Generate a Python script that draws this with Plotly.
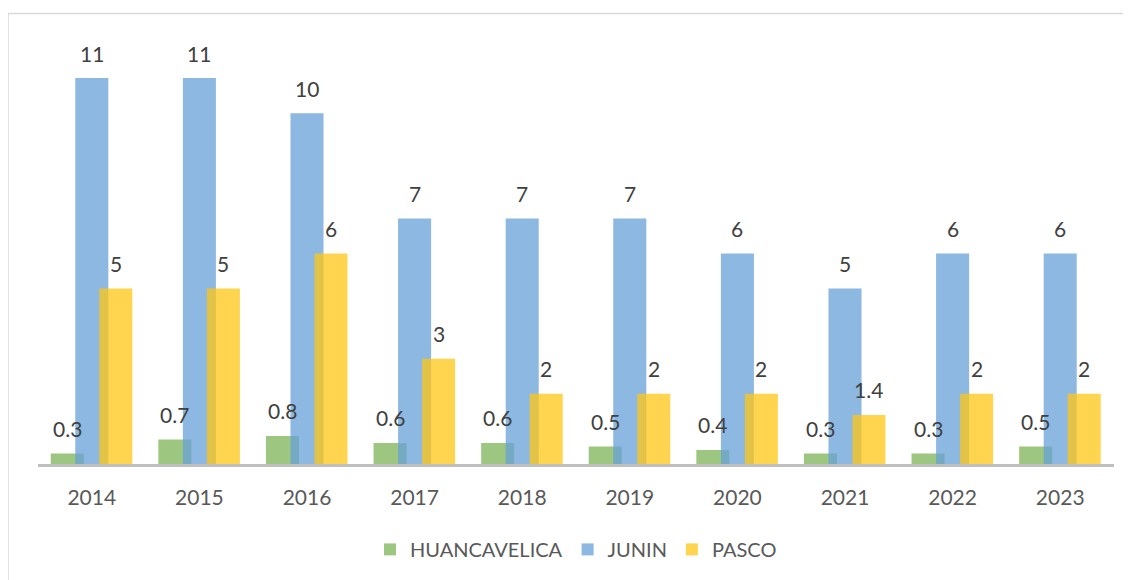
import plotly.graph_objects as go

years = ["2014", "2015", "2016", "2017", "2018", "2019", "2020", "2021", "2022", "2023"]
huancavelica = [0.3, 0.7, 0.8, 0.6, 0.6, 0.5, 0.4, 0.3, 0.3, 0.5]
junin = [11, 11, 10, 7, 7, 7, 6, 5, 6, 6]
pasco = [5, 5, 6, 3, 2, 2, 2, 1.4, 2, 2]

series = [
    ("HUANCAVELICA", huancavelica, "rgba(124,180,85,0.75)", -0.228),
    ("JUNIN", junin, "rgba(103,160,216,0.75)", 0.0),
    ("PASCO", pasco, "rgba(255,199,20,0.75)", 0.223),
]

# page body has an 8px margin; figure drawn offset by it
OFF = 8
W, H = 1131 - OFF, 580 - OFF
L, R, T, B = 38 - OFF, 17, 43 - OFF, 115
bw = 0.307
pw = W - L - R
ph = H - T - B
cat_px = pw / len(years)

fig = go.Figure()
annotations = []
for name, vals, col, off in series:
    fig.add_trace(go.Bar(
        x=years, y=vals, name=name,
        marker=dict(color=col, line=dict(width=0)),
        width=bw, offset=off - bw / 2,
    ))
    for i, yv in enumerate(vals):
        annotations.append(dict(
            x=i, y=yv, xref="x", yref="y", text=f"{yv:g}",
            showarrow=False, xshift=off * cat_px, yshift=25,
            font=dict(family="Lato, sans-serif", size=21, color="#404040"),
        ))

fig.update_layout(
    width=W, height=H,
    margin=dict(l=L, r=R, t=T, b=B, pad=0),
    barmode="overlay",
    plot_bgcolor="white", paper_bgcolor="white",
    font=dict(family="Lato, sans-serif", size=20, color="#595959"),
    xaxis=dict(
        type="category", showgrid=False, zeroline=False,
        showline=True, linecolor="#bfbfbf", linewidth=2.5,
        ticks="outside", ticklen=13, tickcolor="rgba(0,0,0,0)",
        tickfont=dict(size=21, color="#595959"),
        range=[-0.5, 9.5],
    ),
    yaxis=dict(range=[0, 12], showticklabels=False, showgrid=False,
               zeroline=False, showline=False, ticks=""),
    legend=dict(
        orientation="h", x=0.5, xanchor="center", y=-0.2, yanchor="middle",
        font=dict(size=20, color="#595959"), itemwidth=30,
        traceorder="normal",
    ),
    annotations=annotations,
    showlegend=True,
)

# chart area border (left and top edges)
fig.add_shape(type="line", xref="paper", yref="paper",
              x0=(8 - OFF - L) / pw, x1=(8 - OFF - L) / pw,
              y0=(H - B - (13.5 - OFF)) / ph, y1=(H - B - H - 10) / ph,
              line=dict(color="#d9d9d9", width=1.5))
fig.add_shape(type="line", xref="paper", yref="paper",
              x0=(8 - OFF - L) / pw, x1=(W + 5 - L) / pw,
              y0=(H - B - (13.5 - OFF)) / ph, y1=(H - B - (13.5 - OFF)) / ph,
              line=dict(color="#d9d9d9", width=1.5))

fig.write_html("out.html")
